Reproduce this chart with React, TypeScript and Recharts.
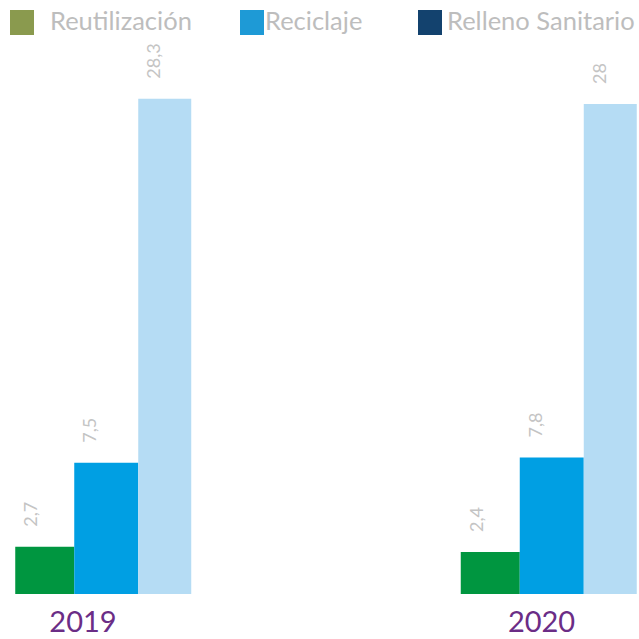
import { BarChart, Bar, XAxis, YAxis, LabelList } from 'recharts';

const years = [2019, 2020];
const reutilizacion = [2.7, 2.4];
const reciclaje = [7.5, 7.8];
const relleno = [28.3, 28];

const seriesNames = ['Reutilización', 'Reciclaje', 'Relleno Sanitario'];
const legendColors = ['#8a9a4e', '#1e9ad6', '#13426e'];

const data = years.map((year, i) => ({
  year,
  reutilizacion: reutilizacion[i],
  reciclaje: reciclaje[i],
  relleno: relleno[i],
}));

const FONT = 'Lato, "Open Sans", sans-serif';

// rotated value label sitting above each bar
const ValueLabel = (props: any) => {
  const { x, y, value } = props;
  const cx = Number(x) + 15;
  const cy = Number(y) - 20;
  return (
    <text
      transform={`translate(${cx},${cy}) rotate(-90)`}
      textAnchor="start"
      dominantBaseline="central"
      fill="#c4c4c4"
      fontSize={18}
      fontFamily={FONT}
    >
      {String(value).replace('.', ',')}
    </text>
  );
};

const tickShift = [-20, -7];

const YearTick = (props: any) => {
  const { x, y, payload, index } = props;
  return (
    <text
      x={Number(x) + (tickShift[index] ?? 0)}
      y={Number(y) + 30}
      textAnchor="middle"
      fill="#6b2d86"
      fontSize={29}
      fontFamily={FONT}
    >
      {payload.value}
    </text>
  );
};

const legendLeft = [10, 240, 418];
const legendTextGap = [40, 25, 29];

export default function App() {
  return (
    <div style={{ position: 'absolute', left: 0, top: 0, width: 639, height: 639, background: '#fff' }}>
      <BarChart
        width={639}
        height={639}
        data={data}
        margin={{ top: 34, right: 0, bottom: 0, left: 0 }}
        barGap={0}
      >
        <XAxis
          type="number"
          dataKey="year"
          domain={[2018.7688, 2020.2031]}
          ticks={years}
          height={45}
          axisLine={false}
          tickLine={false}
          tick={<YearTick />}
          interval={0}
        />
        <YAxis hide domain={[0, 32]} />
        <Bar dataKey="reutilizacion" fill="#009640" barSize={59} isAnimationActive={false}>
          <LabelList dataKey="reutilizacion" content={<ValueLabel />} />
        </Bar>
        <Bar dataKey="reciclaje" fill="#009fe3" barSize={64} isAnimationActive={false}>
          <LabelList dataKey="reciclaje" content={<ValueLabel />} />
        </Bar>
        <Bar dataKey="relleno" fill="#b5dcf4" barSize={53} isAnimationActive={false}>
          <LabelList dataKey="relleno" content={<ValueLabel />} />
        </Bar>
      </BarChart>
      {seriesNames.map((name, i) => (
        <div key={name} style={{ position: 'absolute', left: legendLeft[i], top: 10, height: 25 }}>
          <div style={{ position: 'absolute', left: 0, top: 0, width: 24, height: 25, background: legendColors[i] }} />
          <div
            style={{
              position: 'absolute',
              left: legendTextGap[i],
              top: -5,
              whiteSpace: 'nowrap',
              fontFamily: FONT,
              fontSize: 25.5,
              color: '#bdbdbd',
            }}
          >
            {name}
          </div>
        </div>
      ))}
    </div>
  );
}
